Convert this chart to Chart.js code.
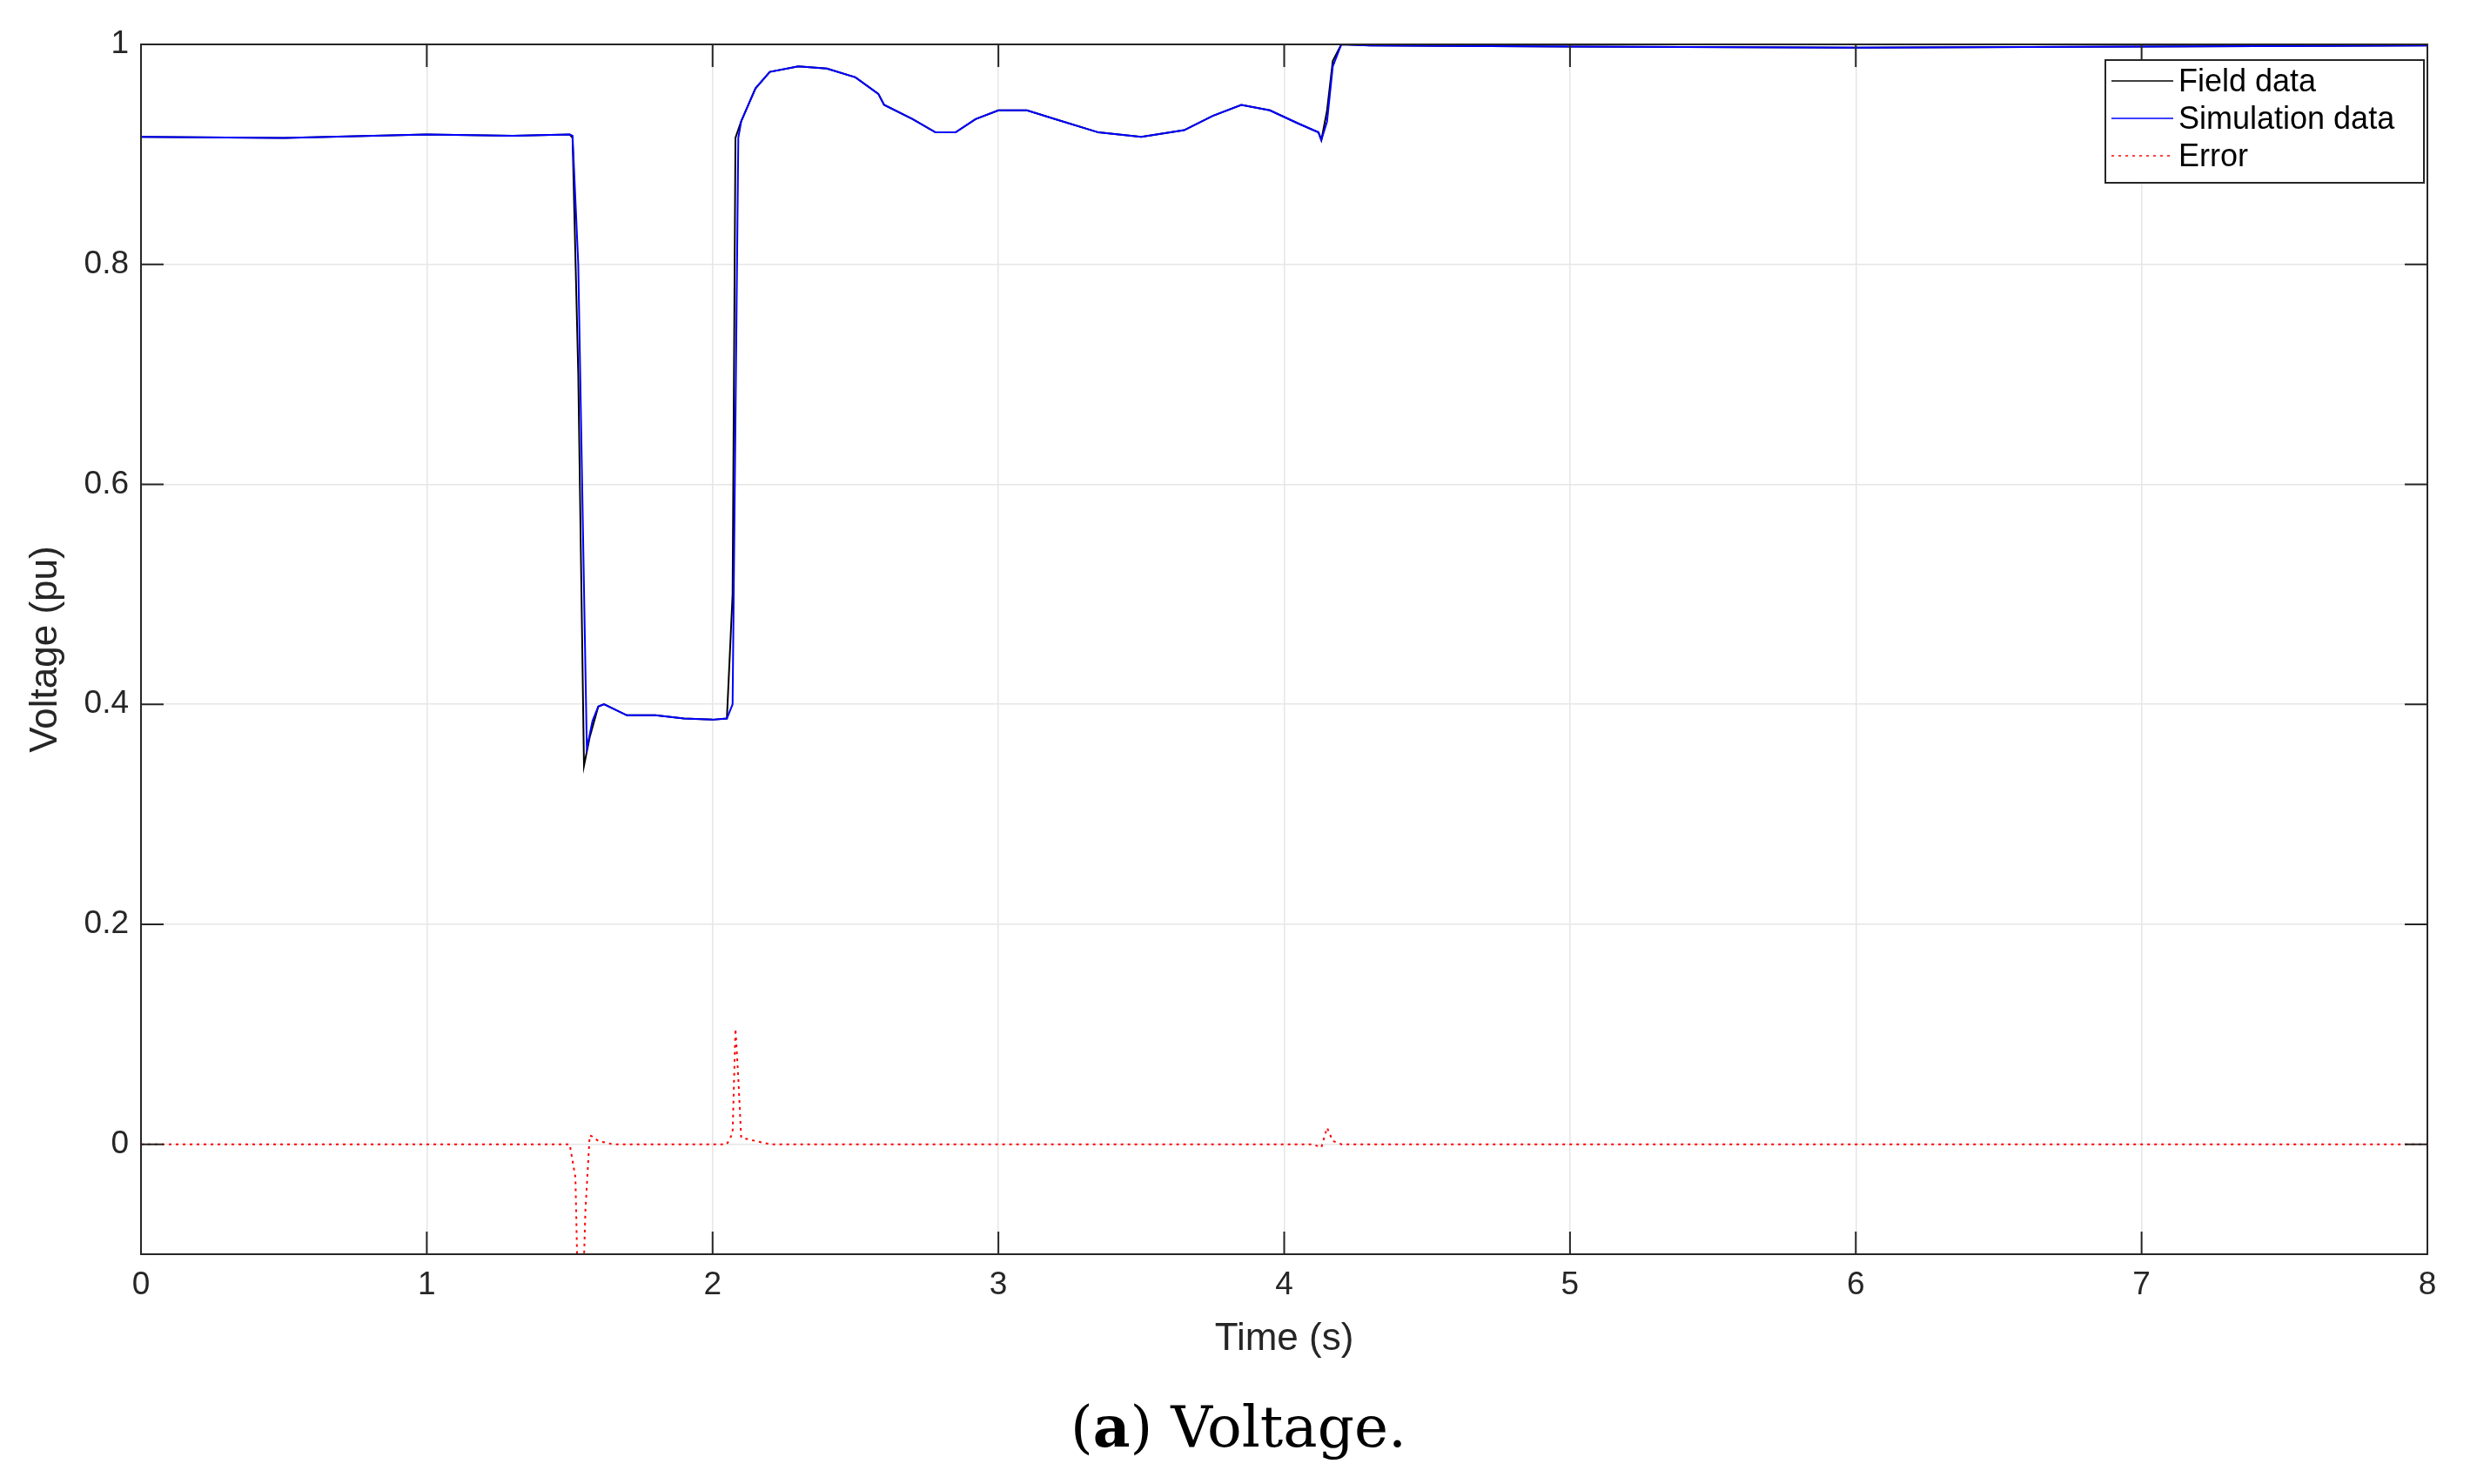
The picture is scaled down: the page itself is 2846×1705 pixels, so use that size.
<!DOCTYPE html>
<html><head><meta charset="utf-8">
<script src="https://cdn.jsdelivr.net/npm/chart.js@4"></script>
<style>
html,body{margin:0;padding:0;background:#fff;}
#wrap{position:relative;width:2846px;height:1705px;}
#cap{position:absolute;left:0;width:2846px;top:1600px;text-align:center;font-family:"DejaVu Serif","Liberation Serif",serif;font-size:66px;color:#000;}
</style></head><body>
<div id="wrap"><canvas id="c" width="2846" height="1705"></canvas>
<div id="cap">(<b>a</b>) Voltage.</div></div>
<script>
const fieldT=[0,0.5,1.0,1.3,1.5,1.51,1.53,1.55,1.57,1.6,1.62,1.7,1.8,1.9,2.0,2.05,2.07,2.08,2.1,2.15,2.2,2.3,2.4,2.5,2.58,2.6,2.7,2.78,2.85,2.92,3.0,3.1,3.2,3.35,3.5,3.65,3.75,3.85,3.95,4.05,4.12,4.13,4.15,4.17,4.2,4.3,5,6,7,8];
const fieldV=[0.916,0.915,0.918,0.917,0.918,0.915,0.70,0.344,0.37,0.398,0.400,0.390,0.390,0.387,0.386,0.387,0.50,0.915,0.93,0.96,0.975,0.980,0.978,0.970,0.955,0.945,0.932,0.920,0.920,0.932,0.940,0.940,0.932,0.920,0.916,0.922,0.935,0.945,0.940,0.928,0.920,0.913,0.940,0.985,1.000,0.999,0.998,0.997,0.998,0.999];
const simT=[0,0.5,1.0,1.3,1.5,1.51,1.53,1.56,1.58,1.6,1.62,1.7,1.8,1.9,2.0,2.05,2.07,2.09,2.1,2.15,2.2,2.3,2.4,2.5,2.58,2.6,2.7,2.78,2.85,2.92,3.0,3.1,3.2,3.35,3.5,3.65,3.75,3.85,3.95,4.05,4.12,4.13,4.15,4.17,4.2,4.3,5,6,7,8];
const simV=[0.916,0.915,0.918,0.917,0.918,0.917,0.80,0.36,0.385,0.398,0.400,0.390,0.390,0.387,0.386,0.387,0.40,0.915,0.93,0.96,0.975,0.980,0.978,0.970,0.955,0.945,0.932,0.920,0.920,0.932,0.940,0.940,0.932,0.920,0.916,0.922,0.935,0.945,0.940,0.928,0.920,0.913,0.930,0.980,1.000,0.999,0.998,0.997,0.998,0.999];
const errT=[0,1.5,1.52,1.53,1.545,1.555,1.57,1.58,1.6,1.65,1.7,2.05,2.07,2.08,2.09,2.1,2.15,2.2,4.1,4.13,4.15,4.17,4.2,8];
const errV=[0,0,-0.03,-0.15,-0.15,-0.06,0.008,0.007,0.003,0,0,0,0.01,0.105,0.06,0.006,0.003,0,0,-0.003,0.015,0.003,0,0];
const xTicks=[0,1,2,3,4,5,6,7,8];
const yTicks=[0,0.2,0.4,0.6,0.8,1];
const pts=(t,v)=>t.map((x,i)=>({x:x,y:v[i]}));
const FONT='"Liberation Sans",Arial,sans-serif';
const frame={id:'frame',afterDatasetsDraw(ch){
 const c=ch.ctx,a=ch.chartArea,xs=ch.scales.x,ys=ch.scales.y;
 c.save();c.strokeStyle='#262626';c.lineWidth=2;
 c.strokeRect(a.left,a.top,a.right-a.left,a.bottom-a.top);
 c.beginPath();
 xTicks.forEach(v=>{const p=xs.getPixelForValue(v);c.moveTo(p,a.bottom);c.lineTo(p,a.bottom-26);c.moveTo(p,a.top);c.lineTo(p,a.top+26);});
 yTicks.forEach(v=>{const p=ys.getPixelForValue(v);c.moveTo(a.left,p);c.lineTo(a.left+26,p);c.moveTo(a.right,p);c.lineTo(a.right-26,p);});
 c.stroke();
 const L=2419,T=69,R=2785,B=210;
 c.fillStyle='#fff';c.fillRect(L,T,R-L,B-T);
 c.strokeStyle='#262626';c.lineWidth=2;c.strokeRect(L,T,R-L,B-T);
 const items=[['Field data','#000',[]],['Simulation data','#0000ff',[]],['Error','#ff0000',[3,5]]];
 c.font='36px '+FONT;c.textBaseline='middle';
 items.forEach((it,i)=>{const y=T+24+i*43;
  c.beginPath();c.setLineDash(it[2]);c.strokeStyle=it[1];c.lineWidth=1.5;c.moveTo(L+7,y);c.lineTo(L+78,y);c.stroke();c.setLineDash([]);
  c.fillStyle='#000';c.fillText(it[0],L+84,y+2);});
 c.restore();}};
new Chart(document.getElementById('c'),{type:'scatter',
 data:{datasets:[
  {label:'Field data',data:pts(fieldT,fieldV),showLine:true,borderColor:'#000',borderWidth:2,pointRadius:0,order:2},
  {label:'Simulation data',data:pts(simT,simV),showLine:true,borderColor:'#0000ff',borderWidth:2,pointRadius:0,order:1},
  {label:'Error',data:pts(errT,errV),showLine:true,borderColor:'#ff0000',borderWidth:2,borderDash:[3,5],pointRadius:0,order:0}]},
 options:{responsive:false,animation:false,devicePixelRatio:1,
  layout:{padding:{left:22,right:57,top:51,bottom:140}},
  plugins:{legend:{display:false},tooltip:{enabled:false}},
  scales:{
   x:{type:'linear',min:0,max:8,afterFit:s=>{s.height=124;},
    afterBuildTicks:s=>{s.ticks=xTicks.map(v=>({value:v}));},
    grid:{color:'#e6e6e6',lineWidth:1.5,drawTicks:false},border:{display:false},
    ticks:{font:{size:37,family:FONT},color:'#262626',padding:14,maxRotation:0},
    title:{display:true,text:'Time (s)',font:{size:44,family:FONT},color:'#262626',padding:{top:0,bottom:0}}},
   y:{type:'linear',min:-0.1,max:1,afterFit:s=>{s.width=140;},
    afterBuildTicks:s=>{s.ticks=yTicks.map(v=>({value:v}));},
    grid:{color:'#e6e6e6',lineWidth:1.5,drawTicks:false},border:{display:false},
    ticks:{font:{size:37,family:FONT},color:'#262626',padding:14,callback:v=>String(v)},
    title:{display:true,text:'Voltage (pu)',font:{size:44,family:FONT},color:'#262626',padding:{bottom:8}}}}},
 plugins:[frame]});
</script></body></html>
